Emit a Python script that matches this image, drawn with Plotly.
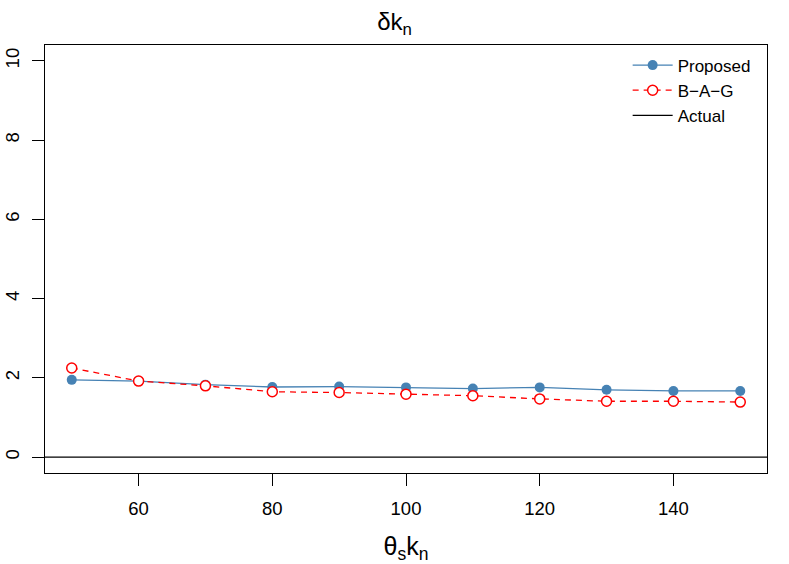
import plotly.graph_objects as go

x_vals = [50, 60, 70, 80, 90, 100, 110, 120, 130, 140, 150]
proposed = [1.95, 1.92, 1.83, 1.77, 1.78, 1.76, 1.73, 1.76, 1.70, 1.67, 1.67]
bag = [2.25, 1.92, 1.80, 1.65, 1.63, 1.59, 1.55, 1.47, 1.41, 1.41, 1.39]
actual_value = 0
x_ticks = [60, 80, 100, 120, 140]
y_ticks = [0, 2, 4, 6, 8, 10]

FONT = "Liberation Sans, Arial, Helvetica, sans-serif"

fig = go.Figure()
fig.add_trace(go.Scatter(
    x=x_vals, y=proposed, name="Proposed", mode="lines+markers",
    line=dict(color="steelblue", width=1.3),
    marker=dict(color="steelblue", size=10, symbol="circle"),
))
fig.add_trace(go.Scatter(
    x=x_vals, y=bag, name="B\u2212A\u2212G", mode="lines+markers",
    line=dict(color="red", width=1.3, dash="6px,5px"),
    marker=dict(color="white", size=10, symbol="circle",
                line=dict(color="red", width=1.5)),
))
fig.add_trace(go.Scatter(
    x=[None], y=[None], name="Actual", mode="lines",
    line=dict(color="black", width=1.3),
))
fig.add_hline(y=actual_value, line=dict(color="black", width=1.3))

fig.update_layout(
    width=789, height=564,
    margin=dict(l=45, r=22, t=45, b=91, autoexpand=False),
    paper_bgcolor="white", plot_bgcolor="white",
    font=dict(family=FONT, size=18.5, color="black"),
    title=dict(text="\u03b4k<sub>n</sub>", x=0.5, xanchor="center",
               y=0.962, yanchor="middle", font=dict(size=24)),
    showlegend=True,
    legend=dict(x=0.807, y=0.994, xanchor="left", yanchor="top",
                bgcolor="rgba(0,0,0,0)", font=dict(size=17),
                tracegroupgap=0, itemwidth=40),
)
fig.update_xaxes(
    range=[46, 154], tickvals=x_ticks, ticks="outside", ticklen=12,
    tickcolor="black", showline=True, linecolor="black", linewidth=1,
    mirror=True, showgrid=False, zeroline=False, automargin=False,
    ticklabelstandoff=7,
    title=dict(text="\u03b8<sub>s</sub>k<sub>n</sub>", font=dict(size=25), standoff=19),
)
fig.update_yaxes(
    range=[-0.4, 10.4], tickvals=y_ticks, ticks="outside", ticklen=12,
    tickcolor="black", showline=True, linecolor="black", linewidth=1,
    mirror=True, showgrid=False, zeroline=False, tickangle=-90,
    automargin=False, ticklabelstandoff=6,
)

fig.write_html("out.html", config={"displayModeBar": False},
               post_script="document.body.style.margin='0';")
